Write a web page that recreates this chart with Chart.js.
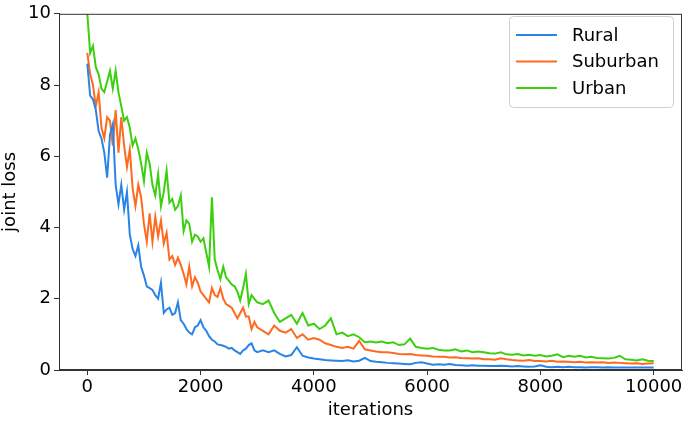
<!DOCTYPE html>
<html><head><meta charset="utf-8">
<script src="https://cdn.jsdelivr.net/npm/chart.js@4/dist/chart.umd.min.js"></script>
<style>html,body{margin:0;padding:0;background:#fff}#wrap{width:685px;height:421px}</style>
</head><body><div id="wrap"><canvas id="c" width="685" height="421"></canvas></div>
<script>
const iterations = [0,50,100,150,200,250,300,350,400,450,500,550,600,650,700,750,800,850,900,950,1000,1050,1100,1150,1200,1250,1300,1350,1400,1450,1500,1550,1600,1650,1700,1750,1800,1850,1900,1950,2000,2050,2100,2150,2200,2250,2300,2350,2400,2450,2500,2550,2600,2650,2700,2750,2800,2850,2900,2950,3000,
3100,3200,3300,3400,3500,3600,3700,3800,3900,4000,4100,4200,4300,4400,4500,4600,4700,4800,4900,5000,5100,5200,5300,5400,5500,5600,5700,5800,5900,6000,6100,6200,6300,6400,6500,6600,6700,6800,6900,7000,7100,7200,7300,7400,7500,7600,7700,7800,7900,8000,8100,8200,8300,8400,8500,8600,8700,8800,8900,9000,9100,9200,9300,9400,9500,9600,9700,9800,9900,10000];

const rural = [8.6,7.7,7.6,7.3,6.7,6.5,6.1,5.4,6.6,6.9,5.2,4.65,5.2,4.5,5.0,3.8,3.4,3.2,3.5,2.9,2.65,2.35,2.3,2.25,2.1,2.0,2.45,1.6,1.7,1.75,1.55,1.6,1.9,1.4,1.3,1.15,1.05,1.0,1.2,1.25,1.4,1.2,1.1,0.95,0.85,0.8,0.72,0.7,0.68,0.65,0.6,0.62,0.55,0.5,0.45,0.55,0.6,0.7,0.75,0.55,0.5,
0.55,0.5,0.55,0.45,0.38,0.42,0.64,0.4,0.35,0.32,0.3,0.28,0.27,0.26,0.25,0.27,0.24,0.26,0.34,0.25,0.23,0.22,0.2,0.19,0.18,0.17,0.16,0.2,0.22,0.18,0.15,0.16,0.15,0.17,0.14,0.13,0.12,0.13,0.12,0.12,0.11,0.11,0.12,0.11,0.1,0.11,0.1,0.09,0.1,0.13,0.09,0.08,0.09,0.08,0.09,0.08,0.08,0.07,0.08,0.08,0.07,0.08,0.07,0.07,0.07,0.07,0.07,0.07,0.07,0.07];

const suburban = [8.9,8.3,8.0,7.4,7.8,6.8,6.5,7.1,7.0,6.3,7.3,6.1,7.1,6.3,5.7,6.2,5.1,4.6,5.2,4.85,4.1,3.6,4.4,3.6,4.3,3.75,4.2,3.55,3.85,3.1,3.2,2.95,3.15,2.95,2.7,2.4,2.9,2.35,2.6,2.45,2.2,2.1,2.0,1.9,2.3,2.1,2.05,2.3,2.0,1.85,1.8,1.75,1.6,1.45,1.6,1.75,1.5,1.5,1.15,1.35,1.2,
1.1,1.0,1.25,1.1,1.05,1.15,0.9,1.0,0.85,0.9,0.85,0.75,0.7,0.65,0.62,0.65,0.6,0.82,0.58,0.55,0.52,0.5,0.5,0.48,0.45,0.44,0.45,0.42,0.41,0.4,0.38,0.37,0.37,0.35,0.36,0.34,0.33,0.32,0.33,0.3,0.3,0.29,0.33,0.3,0.28,0.27,0.26,0.28,0.25,0.25,0.24,0.26,0.23,0.24,0.23,0.22,0.23,0.21,0.22,0.21,0.22,0.2,0.21,0.2,0.19,0.18,0.19,0.17,0.18,0.19];

const urban = [10.0,8.9,9.1,8.5,8.3,7.9,7.8,8.1,8.4,7.9,8.4,7.8,7.4,7.0,7.1,6.8,6.3,6.5,6.2,5.8,5.3,6.1,5.8,5.2,4.9,5.5,4.6,5.0,5.6,4.7,4.8,4.5,4.6,4.9,3.9,4.2,4.1,3.6,3.8,3.75,3.6,3.7,3.3,2.9,4.85,3.1,2.8,2.55,2.9,2.6,2.5,2.4,2.35,2.2,1.95,2.3,2.7,1.85,2.1,2.0,1.9,
1.85,1.95,1.6,1.35,1.45,1.55,1.3,1.6,1.25,1.3,1.15,1.25,1.45,1.0,1.05,0.95,1.0,0.92,0.78,0.8,0.77,0.8,0.75,0.78,0.7,0.72,0.88,0.65,0.62,0.6,0.62,0.57,0.55,0.55,0.58,0.52,0.55,0.5,0.52,0.5,0.47,0.46,0.5,0.44,0.43,0.45,0.41,0.43,0.4,0.42,0.38,0.4,0.44,0.36,0.4,0.37,0.4,0.35,0.37,0.34,0.33,0.32,0.34,0.4,0.3,0.29,0.27,0.3,0.26,0.25];

const seriesNames = ['Rural','Suburban','Urban'];
const xTicks = [0,2000,4000,6000,8000,10000];
const yTicks = [0,2,4,6,8,10];

const colors = ['#2a84e6','#ff6a21','#3ccf0e'];
const FONT = 'DejaVu Sans';
const toXY = arr => arr.map((v,i)=>({x:iterations[i], y:v}));

const frame = {
  id:'frame',
  afterDatasetsDraw(chart){
    const {ctx, chartArea:a} = chart;
    ctx.save();
    ctx.strokeStyle = '#333'; ctx.lineWidth = 1;
    ctx.strokeRect(a.left+0.5, a.top+0.5, a.right-a.left-1, a.bottom-a.top-1);
    ctx.restore();
  }
};
const legendBox = {
  id:'legendBox',
  afterDraw(chart){
    const ctx = chart.ctx;
    const x0=509, y0=16, w=164, h=91, r=4;
    ctx.save();
    ctx.fillStyle='rgba(255,255,255,0.8)';
    ctx.strokeStyle='#d0d0d0'; ctx.lineWidth=1;
    ctx.beginPath();
    ctx.roundRect(x0+0.5,y0+0.5,w,h,r);
    ctx.fill(); ctx.stroke();
    ctx.font = '18px "'+FONT+'"';
    ctx.textBaseline='middle';
    chart.data.datasets.forEach((ds,i)=>{
      const y = 35 + i*26.5;
      ctx.strokeStyle = ds.borderColor; ctx.lineWidth=2;
      ctx.beginPath(); ctx.moveTo(516,y); ctx.lineTo(557,y); ctx.stroke();
      ctx.fillStyle='#000';
      ctx.fillText(ds.label, 572, y+1);
    });
    ctx.restore();
  }
};

new Chart(document.getElementById('c'), {
  type:'line',
  data:{ datasets:[
    {label:seriesNames[0], data:toXY(rural), borderColor:colors[0]},
    {label:seriesNames[1], data:toXY(suburban), borderColor:colors[1]},
    {label:seriesNames[2], data:toXY(urban), borderColor:colors[2]}
  ]},
  options:{
    responsive:false, animation:false,
    layout:{padding:{top:6,right:3,left:0,bottom:0}},
    elements:{point:{radius:0}, line:{borderWidth:2, tension:0}},
    plugins:{legend:{display:false}, tooltip:{enabled:false}},
    scales:{
      x:{type:'linear', min:-500, max:10500,
        afterBuildTicks(s){ s.ticks = xTicks.map(v=>({value:v})); },
        afterFit(s){ s.height = 51; },
        grid:{drawOnChartArea:false, drawTicks:true, tickLength:5, color:'#333'},
        border:{color:'#333'},
        ticks:{color:'#000', font:{family:FONT,size:18}, padding:2, maxRotation:0, callback:v=>String(v)},
        title:{display:true, text:'iterations', color:'#000', font:{family:FONT,size:18}, padding:{top:0,bottom:0}}
      },
      y:{min:0, max:10,
        afterBuildTicks(s){ s.ticks = yTicks.map(v=>({value:v})); },
        afterFit(s){ s.width = 59; },
        grid:{drawOnChartArea:false, drawTicks:true, tickLength:5, color:'#333'},
        border:{color:'#333'},
        ticks:{color:'#000', font:{family:FONT,size:18}, padding:3, callback:v=>String(v)},
        title:{display:true, text:'joint loss', color:'#000', font:{family:FONT,size:18}, padding:{top:0,bottom:2}}
      }
    }
  },
  plugins:[frame, legendBox]
});
</script></body></html>
